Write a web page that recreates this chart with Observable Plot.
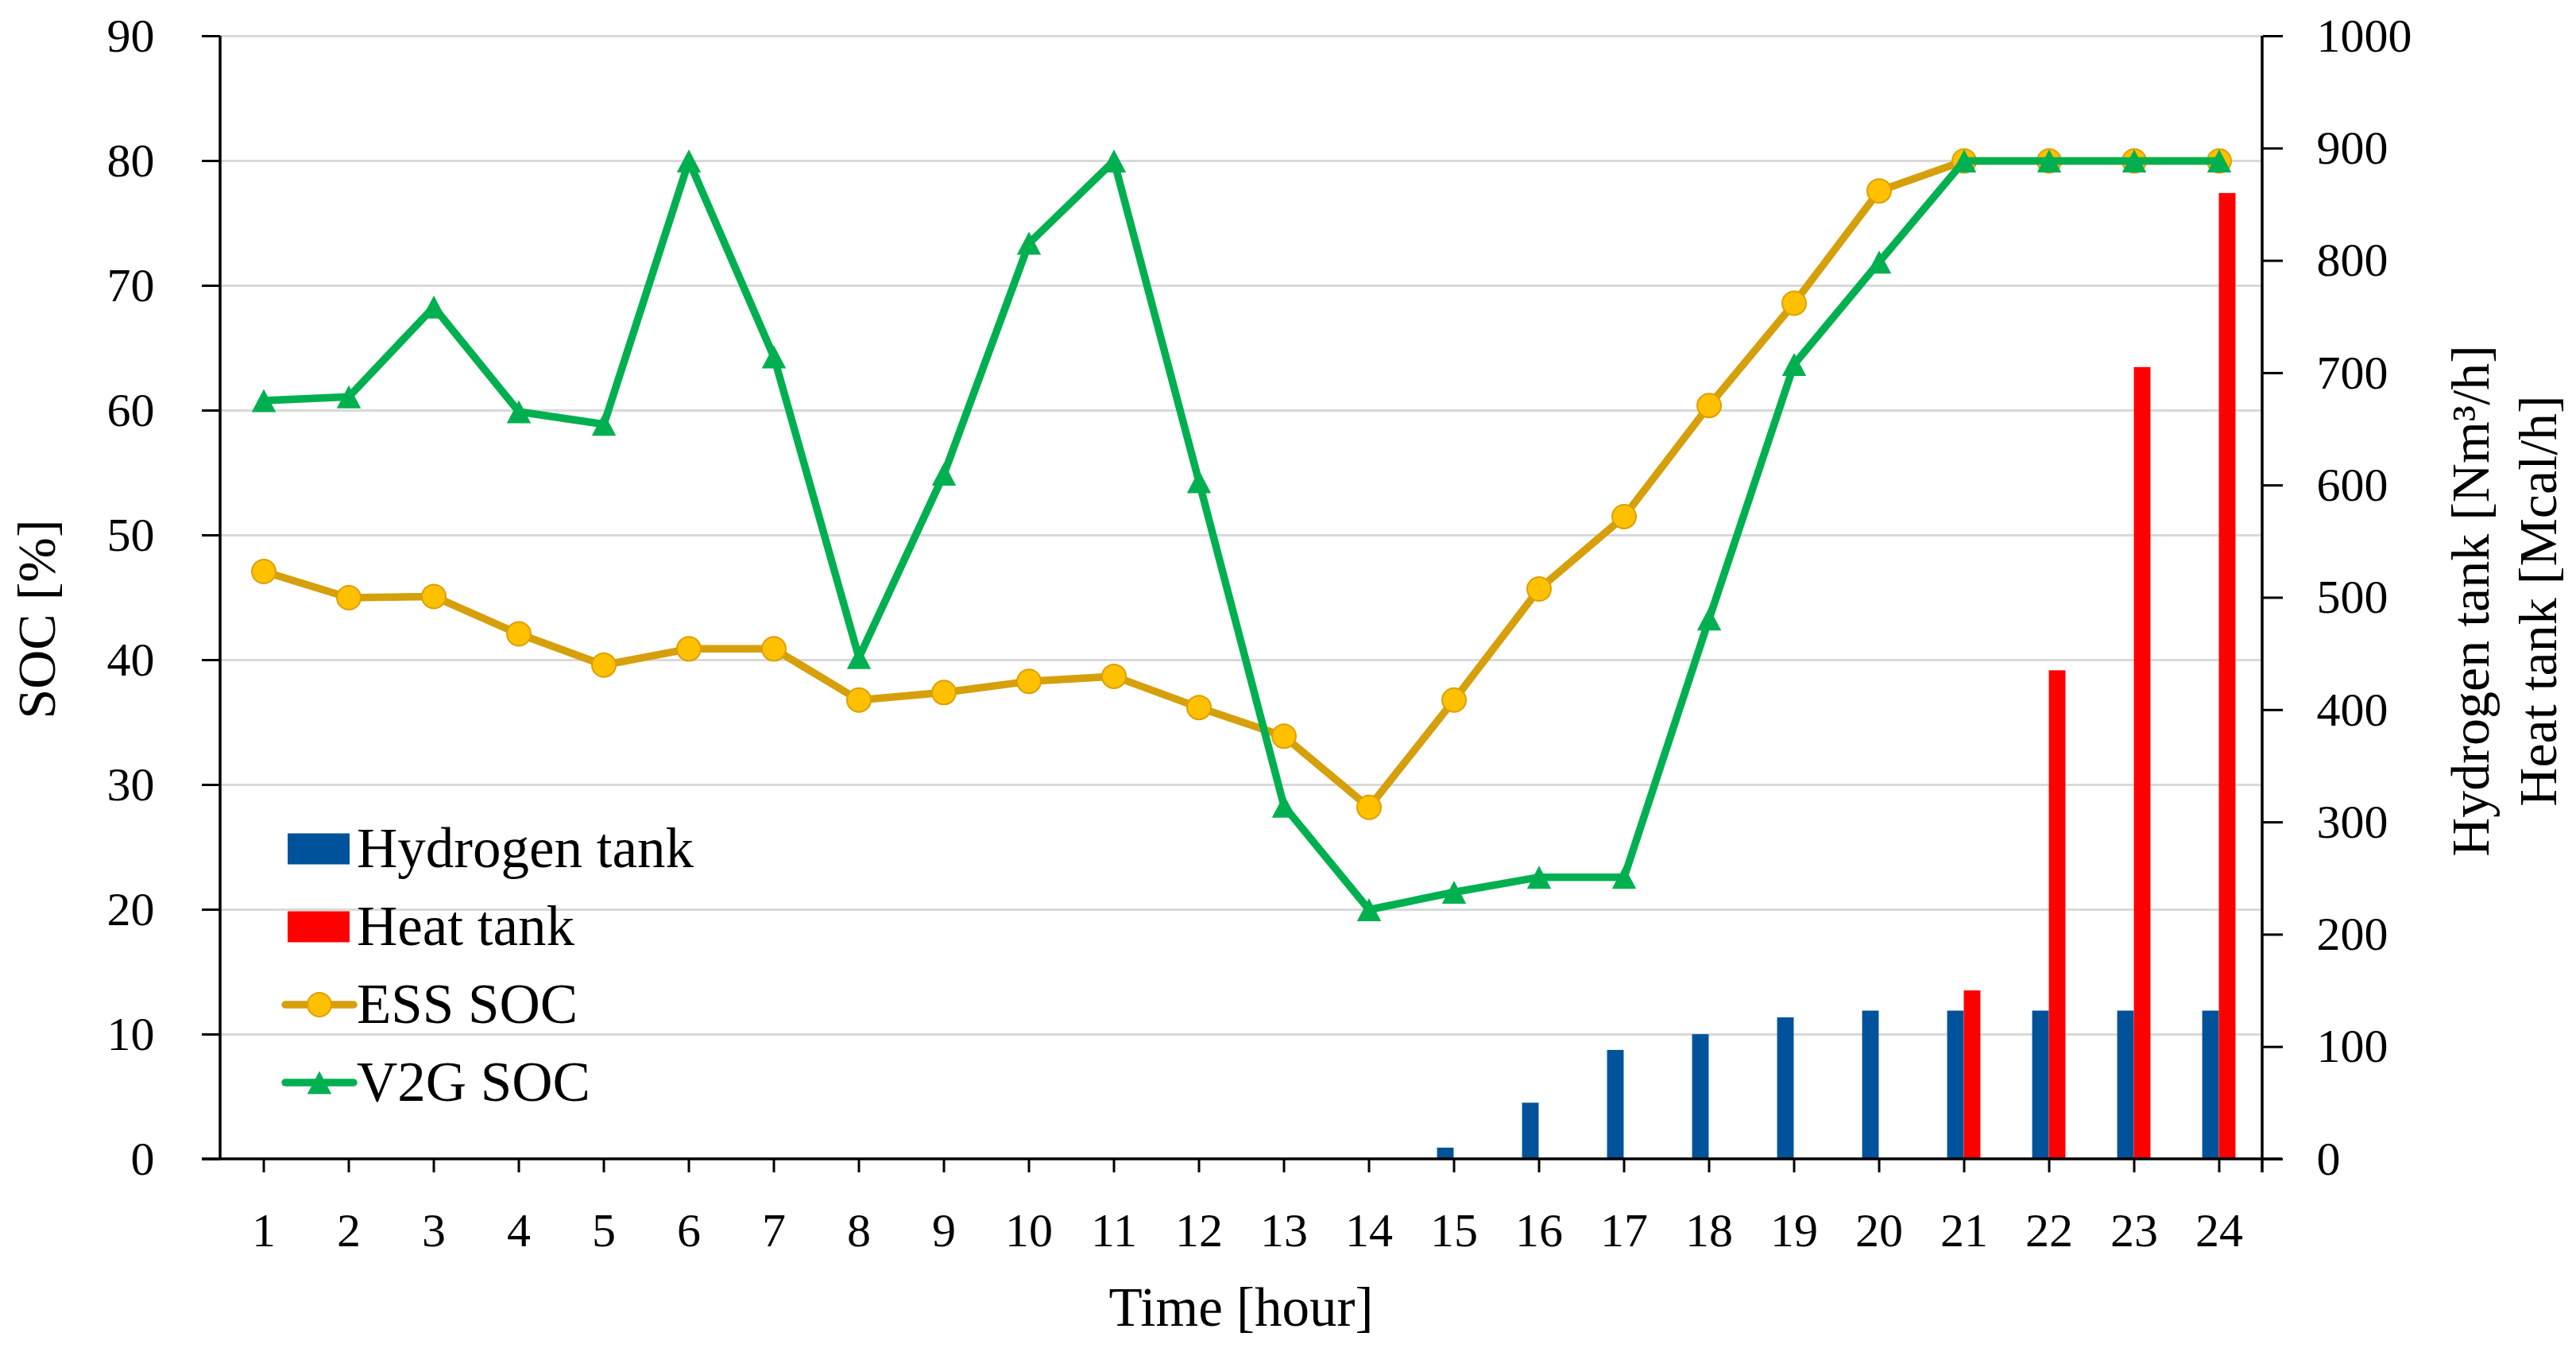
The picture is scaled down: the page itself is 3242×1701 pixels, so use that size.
<!DOCTYPE html>
<html>
<head>
<meta charset="utf-8">
<script src="https://cdn.jsdelivr.net/npm/d3@7"></script>
<script src="https://cdn.jsdelivr.net/npm/@observablehq/plot@0.6"></script>
<style>
  html, body { margin: 0; padding: 0; background: #ffffff; }
  #chart svg { display: block; }
</style>
</head>
<body>
<div id="chart"></div>
<script>
// ---- data ----
const hours = [1,2,3,4,5,6,7,8,9,10,11,12,13,14,15,16,17,18,19,20,21,22,23,24];
const essSOC = [47.1,45.0,45.1,42.1,39.6,40.9,40.9,36.8,37.4,38.3,38.7,36.2,33.9,28.2,36.8,45.7,51.5,60.4,68.6,77.6,80,80,80,80];
const v2gSOC = [60.8,61.1,68.3,59.9,58.9,80,64.3,40.2,54.9,73.4,80,54.3,28.3,20.0,21.4,22.6,22.6,43.3,63.7,71.9,80,80,80,80];
const hydrogenTank = [0,0,0,0,0,0,0,0,0,0,0,0,0,0,10,50,97,111,126,132,132,132,132,132];
const heatTank = [0,0,0,0,0,0,0,0,0,0,0,0,0,0,0,0,0,0,0,0,150,435,705,860];
const leftTicks = [0,10,20,30,40,50,60,70,80,90];
const rightTicks = [0,100,200,300,400,500,600,700,800,900,1000];
const leftMax = 90, rightMax = 1000;
const legendLabels = ["Hydrogen tank","Heat tank","ESS SOC","V2G SOC"];
const xTitle = "Time [hour]";
const yTitle = "SOC [%]";
const y2Titles = ["Hydrogen tank [Nm\u00B3/h]", "Heat tank [Mcal/h]"];

// ---- layout / style ----
const W = 3242, H = 1701;
const mL = 277, mR = 395, mT = 45, mB = 243;
const FONT = "'Liberation Serif', 'DejaVu Serif', serif";
const C = {blue: "#00539b", red: "#ff0000", essLine: "#d6a00c", essFill: "#ffc000", essStroke: "#dca000", v2g: "#00b050", grid: "#d9d9d9"};
const k = leftMax / rightMax;
const bandW = (W - mL - mR) / hours.length;
const barW = 21;
const LW = 9.5;
const triR = 14.5;

// Excel-like triangle marker, centred on its bounding box
const excelTriangle = {
  draw(ctx, size) {
    const r = Math.sqrt(size / Math.PI);
    const w = r * 1.05;
    ctx.moveTo(0, -r);
    ctx.lineTo(w, r);
    ctx.lineTo(-w, r);
    ctx.closePath();
  }
};

const rows = hours.map((h, i) => ({hour: h, ess: essSOC[i], v2g: v2gSOC[i], hyd: hydrogenTank[i], heat: heatTank[i]}));

function decorations(index, scales) {
  const y = scales.y;
  const g = d3.create("svg:g").attr("font-family", FONT).attr("fill", "black");
  const xl = mL, xr = W - mR, y0 = y(0), yTop = y(leftMax);
  // axis lines
  g.append("line").attr("x1", xl).attr("x2", xl).attr("y1", yTop).attr("y2", y0).attr("stroke", "black").attr("stroke-width", 3.5);
  g.append("line").attr("x1", xr).attr("x2", xr).attr("y1", yTop).attr("y2", y0 + 17).attr("stroke", "black").attr("stroke-width", 3.5);
  g.append("line").attr("x1", xl - 23).attr("x2", xr + 25).attr("y1", y0).attr("y2", y0).attr("stroke", "black").attr("stroke-width", 3.5);
  // titles
  g.append("text").attr("transform", `translate(69,779) rotate(-90)`).attr("text-anchor", "middle").attr("font-size", 68).text(yTitle);
  g.append("text").attr("x", (xl + xr) / 2).attr("y", 1668).attr("text-anchor", "middle").attr("font-size", 69).text(xTitle);
  const y2x = [3132, 3217];
  y2Titles.forEach((t, i) => {
    g.append("text").attr("transform", `translate(${y2x[i]},756) rotate(-90)`).attr("text-anchor", "middle").attr("font-size", 68).text(t);
  });
  // legend
  const lx0 = 362, lx1 = 440, ltext = 449, ly0 = 1068, lstep = 98;
  legendLabels.forEach((lab, i) => {
    const cy = ly0 + i * lstep;
    if (i < 2) {
      g.append("rect").attr("x", lx0).attr("y", cy - 19.5).attr("width", lx1 - lx0).attr("height", 39).attr("fill", i === 0 ? C.blue : C.red);
    } else if (i === 2) {
      g.append("line").attr("x1", 359).attr("x2", 445).attr("y1", cy).attr("y2", cy).attr("stroke", C.essLine).attr("stroke-width", LW).attr("stroke-linecap", "round");
      g.append("circle").attr("cx", 402).attr("cy", cy).attr("r", 15).attr("fill", C.essFill).attr("stroke", C.essStroke).attr("stroke-width", 2);
    } else {
      g.append("line").attr("x1", 359).attr("x2", 445).attr("y1", cy).attr("y2", cy).attr("stroke", C.v2g).attr("stroke-width", LW).attr("stroke-linecap", "round");
      g.append("path").attr("transform", `translate(402,${cy})`).attr("d", d3.symbol(excelTriangle, Math.PI * triR * triR)()).attr("fill", C.v2g);
    }
    g.append("text").attr("x", ltext).attr("y", cy + 23).attr("text-anchor", "start").attr("font-size", 71).text(lab);
  });
  return g.node();
}

const chart = Plot.plot({
  width: W, height: H,
  marginLeft: mL, marginRight: mR, marginTop: mT, marginBottom: mB,
  style: {fontFamily: FONT, fontSize: "60px", background: "white", color: "black"},
  x: {type: "band", domain: hours, padding: 0, axis: null},
  y: {domain: [0, leftMax], axis: null},
  marks: [
    Plot.gridY(leftTicks.filter(d => d > 0), {stroke: C.grid, strokeWidth: 3, strokeOpacity: 1}),
    Plot.barY(rows.filter(d => d.hyd > 0), {x: "hour", y: d => d.hyd * k, fill: C.blue, insetLeft: bandW / 2 - barW, insetRight: bandW / 2}),
    Plot.barY(rows.filter(d => d.heat > 0), {x: "hour", y: d => d.heat * k, fill: C.red, insetLeft: bandW / 2, insetRight: bandW / 2 - barW}),
    Plot.line(rows, {x: "hour", y: "ess", stroke: C.essLine, strokeWidth: LW, strokeLinejoin: "round"}),
    Plot.dot(rows, {x: "hour", y: "ess", r: 15, fill: C.essFill, stroke: C.essStroke, strokeWidth: 2}),
    Plot.line(rows, {x: "hour", y: "v2g", stroke: C.v2g, strokeWidth: LW, strokeLinejoin: "round"}),
    Plot.dot(rows, {x: "hour", y: "v2g", symbol: excelTriangle, r: triR, fill: C.v2g, stroke: "none"}),
    Plot.axisX(hours, {anchor: "bottom", tickSize: 17, tickPadding: 50, strokeWidth: 3, label: null, fontSize: 60}),
    Plot.axisY(leftTicks, {anchor: "left", tickSize: 23, tickPadding: 60, strokeWidth: 3, label: null, fontSize: 60}),
    Plot.axisY(rightTicks.map(d => d * k), {anchor: "right", tickSize: 25, tickPadding: 43, strokeWidth: 3, label: null, fontSize: 60, tickFormat: d => String(Math.round(d / k))}),
    decorations
  ]
});
document.getElementById("chart").appendChild(chart);
</script>
</body>
</html>
